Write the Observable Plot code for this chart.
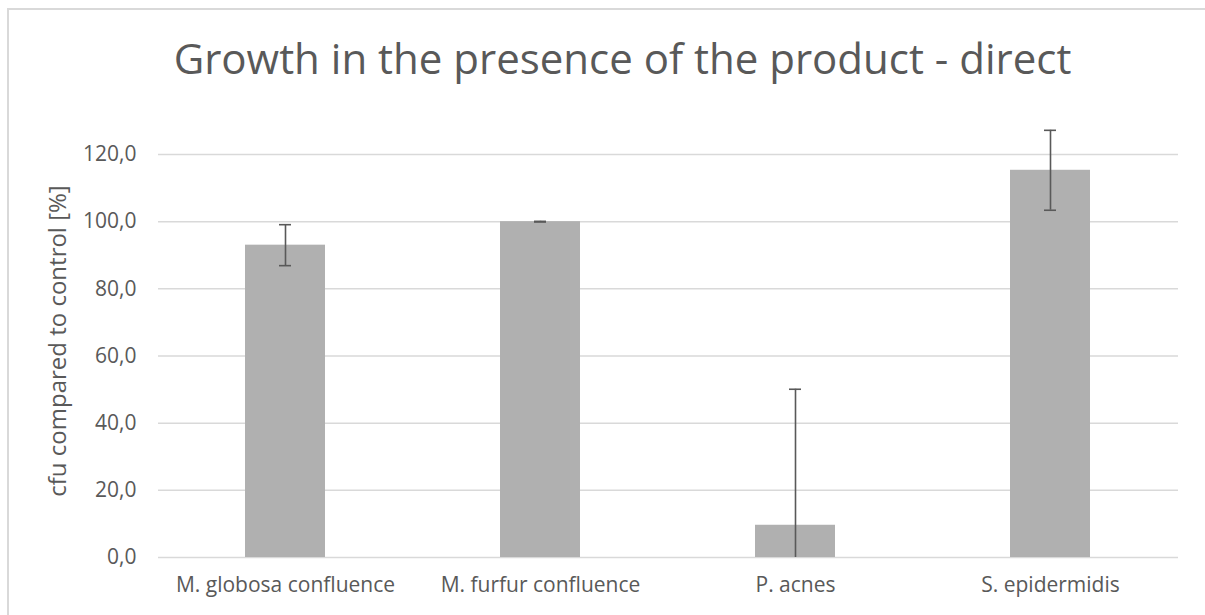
<!DOCTYPE html>
<html>
<head>
<meta charset="utf-8">
<script src="https://cdn.jsdelivr.net/npm/d3@7"></script>
<script src="https://cdn.jsdelivr.net/npm/@observablehq/plot@0.6"></script>
<style>
  html, body { margin: 0; padding: 0; background: #fff; overflow: hidden; }
  #wrap { position: relative; width: 1205px; height: 615px; overflow: hidden; font-family: "Open Sans", sans-serif; }
  #frame { position: absolute; left: 7px; top: 8px; width: 1300px; height: 700px; border: 2px solid #d9d9d9; box-sizing: border-box; }
  #title { position: absolute; left: 0; width: 1245px; top: 29px; text-align: center; font-size: 42px; color: #595959; white-space: nowrap; }
  #chart { position: absolute; left: 0; top: 110px; }
</style>
</head>
<body>
<div id="wrap">
  <div id="frame"></div>
  <div id="title">Growth in the presence of the product - direct</div>
  <div id="chart"></div>
</div>
<script>
const categories = ["M. globosa confluence", "M. furfur confluence", "P. acnes", "S. epidermidis"];
const values = [93.0, 100.0, 9.6, 115.3];
const errors = [6.1, 0.1, 40.5, 11.9];
const yTicks = [0, 20, 40, 60, 80, 100, 120];
const yLabel = "cfu compared to control [%]";

const data = categories.map((c, i) => ({
  cat: c,
  v: values[i],
  lo: values[i] - errors[i],
  hi: values[i] + errors[i]
}));

const fmt = d => d.toFixed(1).replace(".", ",");

const plot = Plot.plot({
  width: 1205,
  height: 505,
  marginTop: 44,
  marginBottom: 58,
  marginLeft: 158,
  marginRight: 27,
  style: { fontFamily: "Open Sans, sans-serif", fontSize: "21px", color: "#595959", background: "transparent" },
  x: { domain: categories, paddingInner: 0.686, paddingOuter: 0.343, label: null },
  y: { domain: [0, 120], ticks: yTicks, label: null },
  marks: [
    Plot.gridY(yTicks, { stroke: "#d9d9d9", strokeOpacity: 1, strokeWidth: 1.5 }),
    Plot.axisY({ ticks: yTicks, tickSize: 0, tickPadding: 22, tickFormat: fmt, label: null, fill: "#595959" }),
    Plot.axisX({ tickSize: 0, tickPadding: 20, label: null, fill: "#595959" }),
    Plot.barY(data, { x: "cat", y: "v", fill: "#b0b0b0" }),
    Plot.ruleX(data, { x: "cat", y1: d => Math.max(0, d.lo), y2: "hi", stroke: "#595959", strokeWidth: 1.6 }),
    Plot.tickY(data, { x: "cat", y: "hi", stroke: "#595959", strokeWidth: 1.6, insetLeft: 34, insetRight: 34 }),
    Plot.tickY(data.filter(d => d.lo >= 0), { x: "cat", y: "lo", stroke: "#595959", strokeWidth: 1.6, insetLeft: 34, insetRight: 34 }),
    Plot.text([yLabel], { text: d => d, frameAnchor: "left", textAnchor: "middle", rotate: -90, dx: -100, dy: -15, fill: "#595959", fontSize: 24 })
  ]
});
document.getElementById("chart").appendChild(plot);
</script>
</body>
</html>
